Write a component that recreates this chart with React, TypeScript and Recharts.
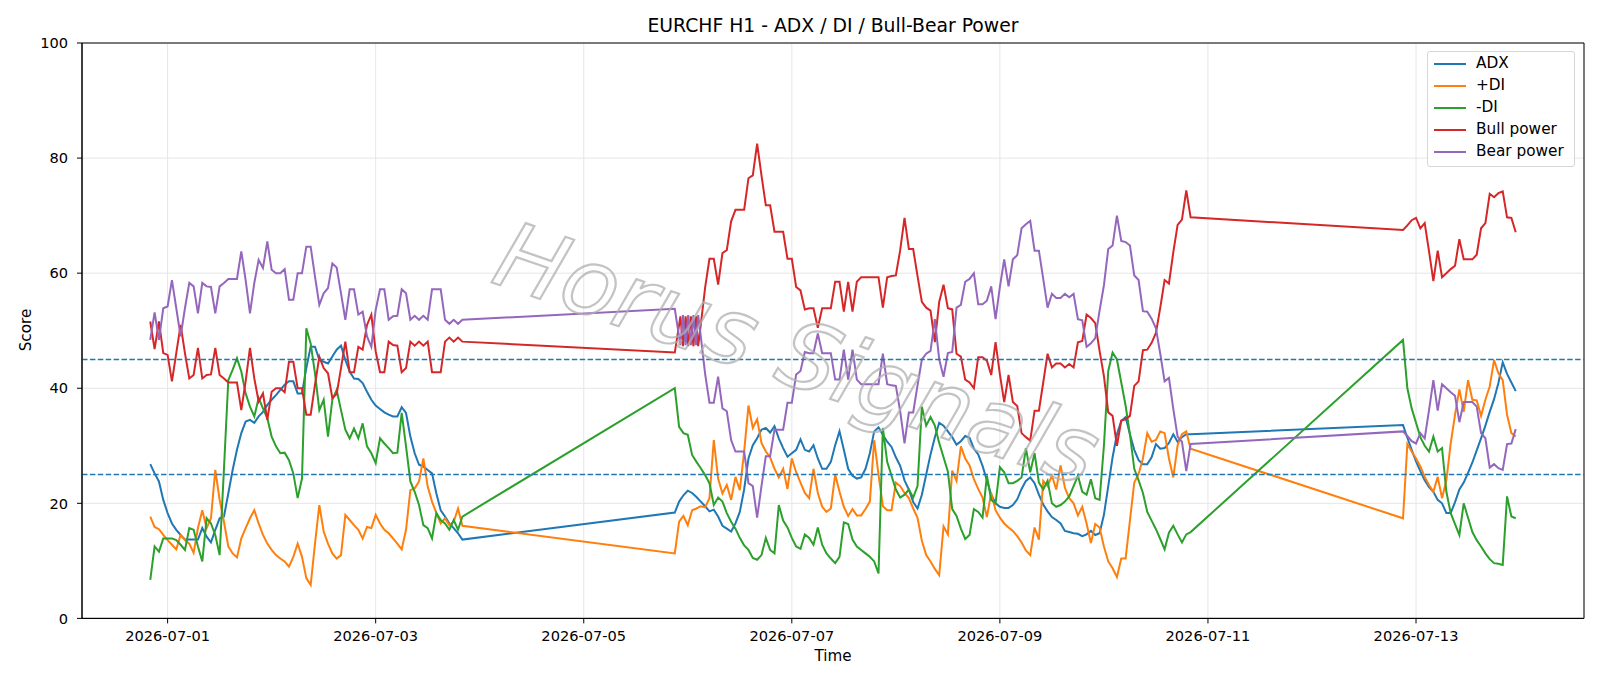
import { LineChart, Line, XAxis, YAxis, CartesianGrid, ReferenceLine, ReferenceArea } from "recharts";

// hours counted from 2026-07-01 00:00 (H1 bars, weekend gaps)
const TICK_HOURS = [0, 48, 96, 144, 192, 240, 288];
const TICK_LABELS = ["2026-07-01", "2026-07-03", "2026-07-05", "2026-07-07", "2026-07-09", "2026-07-11", "2026-07-13"];
const Y_TICKS = [0, 20, 40, 60, 80, 100];

// week 1: h -4 .. 68
const ADX_1 = [26.8, 25.2, 23.8, 20.6,
  18.3, 16.5, 15.4, 14.5, 13.7, 13.7, 13.7, 13.7, 15.7, 14.2,
  13.2, 15.4, 17.4, 17.7, 21.7, 25.8, 29.3, 32.2, 34.2, 34.5,
  34, 35.1, 35.9, 37.1, 38, 38.8, 39.7, 40.6, 41.2, 41.2,
  39.1, 39.1, 43.5, 47.2, 47.2, 44.9, 44.6, 44.3, 45.5, 46.7,
  47.4, 44.9, 42.9, 41.7, 41.6, 40.9, 39.4, 38, 37, 36.4,
  35.8, 35.4, 35.1, 35.1, 36.7, 35.7, 31.6, 28.7, 26.7, 26.4,
  25.8, 25.2, 21.7, 18.8, 17.7, 16.5, 15.7, 14.8, 13.7];
const PDI_1 = [17.7, 15.9, 15.5, 14.5,
  13.6, 12.8, 12, 14.5, 13.6, 13, 11.4, 15.7, 18.8, 15.7,
  17.4, 25.8, 20.6, 16.8, 12.5, 11.3, 10.6, 13.9, 15.7, 17.4,
  18.8, 16.5, 14.5, 13, 11.9, 11, 10.4, 9.9, 9, 10.7,
  13, 10.7, 7, 5.8, 13, 19.7, 15.1, 13, 11.3, 10.4,
  11, 18, 17.1, 16.2, 15.4, 13.9, 15.9, 15.7, 18, 16.5,
  15.4, 14.8, 13.9, 13, 12, 15.4, 22.3, 22.6, 23.8, 27.8,
  22.9, 20.3, 18.3, 16.5, 17.4, 16.2, 16.8, 19.1, 16.1];
const MDI_1 = [6.7, 12.5, 11.6, 13.9,
  13.9, 13.9, 13.6, 12.8, 11.9, 15.7, 15.4, 12.5, 9.9, 17.4,
  16.5, 14.5, 11, 26, 41.4, 43.2, 45.2, 42.9, 39.1, 36.8,
  35.1, 38.3, 36.5, 34.8, 31.6, 29.9, 28.7, 28.8, 27.5, 25.2,
  20.9, 24.3, 50.4, 47.8, 42.6, 36.2, 38, 31.6, 38, 39.7,
  36.2, 32.8, 31.3, 33, 31.3, 33.9, 29.9, 28.7, 27, 31.3,
  30.4, 29.6, 28.7, 28.8, 35.7, 29.9, 23.8, 22, 19.7, 16.2,
  15.7, 13.9, 18.3, 17.1, 16.5, 15.4, 17.1, 15.4, 17.7];
const BULL_1 = [51.6, 46.8, 51.6, 46.1,
  45.8, 41.2, 46.1, 51, 46.1, 41.7, 42.3, 47, 41.7, 42.3,
  42.4, 47, 42.3, 41.7, 41, 41, 41, 36.2, 41.2, 47,
  41.7, 37.7, 39.1, 34.5, 39.4, 40, 40, 39.3, 44.6, 44.6,
  40, 40, 35.4, 35.4, 40.6, 45.5, 43.5, 42.6, 38.3, 39,
  43.5, 48.1, 42.8, 42.8, 47.2, 46.7, 51, 52.8, 46.4, 42.8,
  42.8, 48.1, 47.5, 47.4, 42.8, 43.5, 48.1, 47.4, 48.1, 47.4,
  48.1, 42.8, 42.8, 42.8, 48.1, 48.8, 48.1, 48.8, 48.1];
const BEAR_1 = [48.4, 53.2, 48.4, 53.9,
  54.2, 58.8, 53.9, 49, 53.9, 58.3, 57.7, 53, 58.3, 57.7,
  57.6, 53, 57.7, 58.3, 59, 59, 59, 63.8, 58.8, 53,
  58.3, 62.3, 60.9, 65.5, 60.6, 60, 60, 60.7, 55.4, 55.4,
  60, 60, 64.6, 64.6, 59.4, 54.5, 56.5, 57.4, 61.7, 61,
  56.5, 51.9, 57.2, 57.2, 52.8, 53.3, 49, 47.2, 53.6, 57.2,
  57.2, 51.9, 52.5, 52.6, 57.2, 56.5, 51.9, 52.6, 51.9, 52.6,
  51.9, 57.2, 57.2, 57.2, 51.9, 51.2, 51.9, 51.2, 51.9];

// week 2: h 117 .. 236
const ADX_2 = [18.4, 20.3, 21.4, 22.2, 21.8, 21.1, 20.3, 19.5, 18.6, 18.9,
  17.7, 16.1, 15.6, 15.1, 16.5, 18.5, 22.4, 27.8, 30.1, 31.3,
  32.8, 33.1, 32.3, 33.4, 31.3, 29.6, 28.1, 28.7, 29.3, 31.1,
  29.3, 29, 30.1, 27.8, 26, 26, 27.2, 30.1, 32.5, 29.3,
  26, 24.8, 24.3, 24.5, 26, 28.7, 32.5, 33.2, 31.9, 30.7,
  29.8, 28, 26.5, 24, 22.4, 20.2, 19.1, 21.5, 25, 28.5,
  31.5, 34, 33.5, 32.5, 31.5, 30.2, 30.8, 31.7, 31.4, 29.5,
  28.5, 26.5, 24, 21.5, 20, 19.4, 19.2, 19.2, 19.7, 20.7,
  22.5, 23.9, 24.5, 23.5, 21.5, 19.8, 18.6, 17.6, 17.1, 16.5,
  15.2, 15, 14.8, 14.7, 14.3, 14.6, 15.2, 14.5, 14.8, 18,
  23, 28, 32, 34.3, 35, 32, 29.3, 27.5, 26.8, 26.8,
  28, 30.3, 29.5, 29.6, 30.5, 32, 30.7, 31.5, 32, 32];
const PDI_2 = [11.3, 16.8, 17.8, 16.2, 18.8, 19.1, 19.5, 19.3, 20.9, 31,
  24.3, 21.7, 23.2, 20.6, 24.6, 22.3, 29, 37, 33.1, 34.6,
  30.5, 29, 28, 26, 24.5, 26, 22.5, 27.8, 25.4, 23.6,
  21.8, 20.9, 26, 21.8, 19.4, 18.5, 19.1, 25, 22, 19.4,
  17.8, 19, 17.9, 17.9, 19, 20.3, 31, 25, 19.5, 18.8,
  18.8, 23.6, 23, 21.8, 20.9, 19.1, 17.5, 13.5, 11, 9.9,
  8.6, 7.5, 16, 14.6, 25.7, 23.9, 29.9, 27.8, 26.6, 24.2,
  22.5, 21, 17.6, 21.8, 18.8, 17.5, 16.5, 15.8, 15.2, 14.3,
  13.2, 11.8, 11, 15.8, 13.7, 23.9, 23, 24.8, 22.4, 26.6,
  22.7, 20.9, 20, 17.9, 19.4, 16.5, 13.1, 16.4, 15.8, 12.5,
  9.9, 8.7, 7.2, 10.4, 10.4, 17, 23.6, 25.1, 27.8, 32.2,
  30.7, 31, 32.5, 32.2, 27.8, 24.5, 30.1, 32, 32.5, 29.5];
const MDI_2 = [40, 33.3, 32.2, 31.9, 28.4, 27.2, 26.1, 24.9, 23.5, 19.7,
  21, 20.3, 18.3, 16.8, 15.6, 14, 12.7, 11.9, 10.5, 10.2,
  11, 14, 11.9, 11.3, 19.7, 17, 15.8, 14, 12.5, 12.1,
  14.6, 14, 12.8, 15.8, 12.8, 11.3, 10.4, 9.6, 10.7, 16.7,
  16.4, 13.7, 12.5, 11.9, 11.3, 10.7, 9.9, 7.8, 33.1, 27.2,
  24.8, 22.4, 21, 21.5, 22.4, 21, 23, 36.8, 33.5, 35,
  33.5, 30.5, 28, 25.5, 19, 17.8, 15.6, 13.8, 14.5, 19,
  18.5, 17.5, 24.8, 20.6, 20, 26.3, 25.4, 23.5, 23.5, 23.9,
  24.5, 29.6, 25.4, 28.7, 23.6, 22.4, 23.9, 20, 19.4, 19.7,
  20.3, 21.2, 23, 24.8, 22, 21.5, 24.2, 20.9, 20.6, 30,
  43, 46.2, 45, 41, 37, 32, 26, 24, 21.8, 18.5,
  17, 15.5, 13.8, 12, 14.9, 16.1, 14.6, 13.2, 14.6, 15];
const BULL_2 = [46.2, null, null, null, null, null, 51, 57.5, 62.5, 62.5,
  58, 63.5, 64, 69, 71, 71, 71, 76.5, 77, 82.5,
  77, 71.8, 71.8, 67.2, 67.2, 67.2, 62.5, 62.5, 57.6, 57,
  53.7, 53.9, 53.9, 50.5, 53.9, 53.9, 53.9, 58.5, 58.5, 53.3,
  58.5, 53.3, 58.5, 59.3, 59.3, 59.3, 59.3, 59.3, 54, 59.3,
  59.5, 59.6, 64, 69.6, 64.2, 64.2, 59.5, 55, 54, 53.5,
  48, 55, 58, 53.9, 53.7, 46, 45.5, 41.5, 41, 40,
  45.4, 45.4, 44.8, 42.3, 48, 42.4, 37.6, 42.3, 37.6, 36.9,
  32.2, 31.5, 30.9, 36.1, 36.1, 41, 46, 43.6, 44.3, 44.3,
  43.6, 44.2, 43.6, 48, 48.2, 52.8, 52.2, 51.3, 46.5, 42.1,
  35.8, 35.2, 30, 34.4, 34.6, 35.2, 40.4, 41.2, 46.6, 46.7,
  47.9, 49.6, 54, 58.8, 58.2, 63.6, 68.4, 69.3, 74.4, 69.7];
const BEAR_2 = [53.8, null, null, null, null, null, 49, 42.5, 37.5, 37.5,
  42, 36.5, 36, 31, 29, 29, 29, 23.5, 23, 17.5,
  23, 28.2, 28.2, 32.8, 32.8, 32.8, 37.5, 37.5, 42.4, 43,
  46.3, 46.1, 46.1, 49.5, 46.1, 46.1, 46.1, 41.5, 41.5, 46.7,
  41.5, 46.7, 41.5, 40.7, 40.7, 40.7, 40.7, 40.7, 46, 40.7,
  40.5, 40.4, 36, 30.4, 35.8, 35.8, 40.5, 45, 46, 46.5,
  52, 45, 42, 46.1, 46.3, 54, 54.5, 58.5, 59, 60,
  54.6, 54.6, 55.2, 57.7, 52, 57.6, 62.4, 57.7, 62.4, 63.1,
  67.8, 68.5, 69.1, 63.9, 63.9, 59, 54, 56.4, 55.7, 55.7,
  56.4, 55.8, 56.4, 52, 51.8, 47.2, 47.8, 48.7, 53.5, 57.9,
  64.2, 64.8, 70, 65.6, 65.4, 64.8, 59.6, 58.8, 53.4, 53.3,
  52.1, 50.4, 46, 41.2, 41.8, 36.4, 31.6, 30.7, 25.6, 30.3];

// Monday-open zigzag of bull/bear power (denser than hourly)
const ZIG_TIME = [118.3, 118.9, 119.5, 120.1, 120.7, 121.3, 121.9, 122.4];
const ZIG_BULL = [52.5, 47.3, 52.5, 47.3, 52.5, 47.3, 52.5, 47.3];
const ZIG_BEAR = [47.5, 52.7, 47.5, 52.7, 47.5, 52.7, 47.5, 52.7];

// week 3: h 285 .. 311
const ADX_3 = [33.6, 31.4, 29.3, 27.3, 25.6, 24, 22.8, 22, 20.6, 20,
  18.3, 18.3, 20.2, 22.4, 23.6, 25.3, 27.1, 29.2, 31.3, 33.5,
  35.9, 38.1, 40.9, 44.5, 42.5, 41, 39.5];
const PDI_3 = [17.4, 30.3, 29, 27.8, 26.4, 24.6, 23.2, 22, 24.6, 20.9,
  24, 30.4, 35.4, 39.8, 35.9, 41.4, 38, 37.9, 35.2, 38,
  40.3, 44.9, 42.6, 41.4, 35.4, 32.2, 31.6];
const MDI_3 = [48.4, 40, 36.5, 34, 31.5, 30, 29, 31.6, 29, 29.6,
  22, 18.3, 16.4, 14.5, 20, 17.5, 15, 13.6, 12.5, 11.3,
  10.3, 9.6, 9.5, 9.3, 21.2, 17.7, 17.4];
const BULL_3 = [67.5, 68.3, 69.2, 69.6, 67.8, 68.7, 63.8, 58.6, 63.9, 59.3,
  60, 60.7, 61.3, 65.9, 62.4, 62.4, 62.4, 63.2, 67.8, 68.7,
  73.8, 73.2, 73.9, 74.2, 69.7, 69.6, 67.1];
const BEAR_3 = [32.5, 31.7, 30.8, 30.4, 32.2, 31.3, 36.2, 41.4, 36.1, 40.7,
  40, 39.3, 38.7, 34.1, 37.6, 37.6, 37.6, 36.8, 32.2, 31.3,
  26.2, 26.8, 26.1, 25.8, 30.3, 30.4, 32.9];

function hourRange(from: number, to: number) {
  const out: number[] = [];
  for (let h = from; h <= to; h++) out.push(h);
  return out;
}

const HOURS = [...hourRange(-4, 68), ...hourRange(117, 236), ...hourRange(285, 311)];
const ADX = [...ADX_1, ...ADX_2, ...ADX_3];
const PDI = [...PDI_1, ...PDI_2, ...PDI_3];
const MDI = [...MDI_1, ...MDI_2, ...MDI_3];
const BULL = [...BULL_1, ...BULL_2, ...BULL_3];
const BEAR = [...BEAR_1, ...BEAR_2, ...BEAR_3];

const SERIES = [
  { key: "adx", name: "ADX", color: "#1f77b4" },
  { key: "pdi", name: "+DI", color: "#ff7f0e" },
  { key: "mdi", name: "-DI", color: "#2ca02c" },
  { key: "bull", name: "Bull power", color: "#d62728" },
  { key: "bear", name: "Bear power", color: "#9467bd" },
];

const rows = [
  ...HOURS.map((t, i) => ({
    t, adx: ADX[i] ?? null, pdi: PDI[i] ?? null, mdi: MDI[i] ?? null,
    bull: BULL[i] ?? null, bear: BEAR[i] ?? null,
  })),
  ...ZIG_TIME.map((t, i) => ({ t, adx: null, pdi: null, mdi: null, bull: ZIG_BULL[i], bear: ZIG_BEAR[i] })),
].sort((a, b) => a.t - b.t);

const FONT = "'DejaVu Sans', Verdana, sans-serif";
const X_DOMAIN: [number, number] = [-19.75, 326.75];

export default function App() {
  return (
    <div style={{ position: "absolute", left: 0, top: 0, width: 1600, height: 686, background: "#fff", fontFamily: FONT }}>
      <LineChart width={1600} height={686} data={rows} margin={{ top: 43, right: 16, bottom: 0, left: 0 }}>
        <CartesianGrid stroke="#e6e6e6" strokeWidth={1} />
        <XAxis
          type="number" dataKey="t" domain={X_DOMAIN} ticks={TICK_HOURS} allowDataOverflow
          tickFormatter={(v: number) => TICK_LABELS[TICK_HOURS.indexOf(v)] ?? ""}
          height={67.6} tickSize={5} tickMargin={7}
          tick={{ fill: "#000", fontSize: 14.6, fontFamily: FONT }}
          tickLine={{ stroke: "#000" }} axisLine={{ stroke: "#000" }}
        />
        <YAxis
          type="number" domain={[0, 100]} ticks={Y_TICKS} allowDataOverflow
          width={82} tickSize={5} tickMargin={9}
          tick={{ fill: "#000", fontSize: 14.6, fontFamily: FONT }}
          tickLine={{ stroke: "#000" }} axisLine={{ stroke: "#000" }}
        />
        {SERIES.map((s) => (
          <Line
            key={s.key} type="linear" dataKey={s.key} name={s.name} stroke={s.color}
            strokeWidth={2} dot={false} connectNulls isAnimationActive={false}
          />
        ))}
        <ReferenceLine y={45} stroke="#1f77b4" strokeWidth={1.4} strokeDasharray="5.5 2.4" />
        <ReferenceLine y={25} stroke="#1f77b4" strokeWidth={1.4} strokeDasharray="5.5 2.4" />
        <ReferenceArea x1={X_DOMAIN[0]} x2={X_DOMAIN[1]} y1={0} y2={100} fill="none" stroke="#000" strokeWidth={1} />
      </LineChart>

      <svg width={1600} height={686} style={{ position: "absolute", left: 0, top: 0, pointerEvents: "none" }}>
        <text
          x={795} y={360} textAnchor="middle" dominantBaseline="middle"
          transform="rotate(19 795 360)" fontSize={92} fontStyle="italic" fontFamily={FONT}
          fill="none" stroke="#b0b0b0" strokeWidth={2.2} opacity={0.75}
        >
          Horus Signals
        </text>
      </svg>

      <div style={{ position: "absolute", left: 0, width: 1666, top: 15, textAlign: "center", fontSize: 18.8, color: "#000" }}>
        EURCHF H1 - ADX / DI / Bull-Bear Power
      </div>
      <div style={{ position: "absolute", left: 0, width: 1666, top: 647, textAlign: "center", fontSize: 15.2, color: "#000" }}>
        Time
      </div>
      <div style={{
        position: "absolute", left: 25.5, top: 330, fontSize: 15.2, color: "#000",
        transform: "translate(-50%, -50%) rotate(-90deg)", whiteSpace: "nowrap",
      }}>
        Score
      </div>

      <div style={{
        position: "absolute", left: 1427, top: 51, width: 148, height: 116,
        border: "1px solid #d6d6d6", borderRadius: 3, background: "rgba(255,255,255,0.8)",
        boxSizing: "border-box",
      }}>
        {SERIES.map((s, i) => (
          <div key={s.key} style={{ position: "absolute", left: 0, top: 12.3 + i * 21.9, height: 0, width: "100%" }}>
            <div style={{ position: "absolute", left: 6, top: -1, width: 32, height: 2, background: s.color }} />
            <div style={{ position: "absolute", left: 48, top: -10, fontSize: 15.3, lineHeight: "19px", color: "#000", whiteSpace: "nowrap" }}>
              {s.name}
            </div>
          </div>
        ))}
      </div>
    </div>
  );
}
